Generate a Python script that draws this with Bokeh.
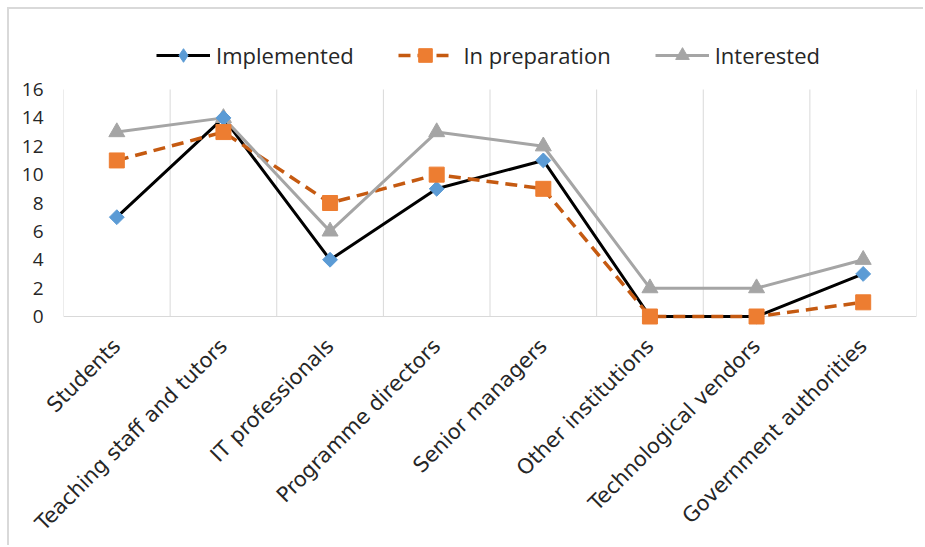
from bokeh.plotting import figure
from bokeh.models import FixedTicker, Legend, LegendItem
from bokeh.embed import file_html
from bokeh.resources import INLINE
from math import pi

# Stakeholder groups and the number of institutions in each status
categories = [
    "Students",
    "Teaching staff and tutors",
    "IT professionals",
    "Programme directors",
    "Senior managers",
    "Other institutions",
    "Technological vendors",
    "Government authorities",
]
implemented = [7, 14, 4, 9, 11, 0, 0, 3]
in_preparation = [11, 13, 8, 10, 9, 0, 0, 1]
interested = [13, 14, 6, 13, 12, 2, 2, 4]
y_ticks = [0, 2, 4, 6, 8, 10, 12, 14, 16]

x = list(range(1, len(categories) + 1))
FONT = "Open Sans"
TEXT = "#262626"
GRID = "#d9d9d9"
BLUE, ORANGE, DARK_ORANGE, GREY = "#5b9bd5", "#ed7d31", "#c55a11", "#a5a5a5"

Y_MAX = y_ticks[-1]
PX_PER_UNIT = 227 / Y_MAX          # pixels per unit in the value area
PAD_BOTTOM = 9                     # room below zero so markers at 0 are whole
FRAME_H = 296 + PAD_BOTTOM         # frame also holds the legend strip above the values

p = figure(
    width=916, height=538,
    x_range=(0.5, len(categories) + 0.5),
    y_range=(-PAD_BOTTOM / PX_PER_UNIT, (FRAME_H - PAD_BOTTOM) / PX_PER_UNIT),
    output_backend="svg", toolbar_location=None,
    min_border_left=54, min_border_right=9, min_border_top=11,
    min_border_bottom=231 - PAD_BOTTOM,
)
p.styles = {
    "margin-left": "7px", "margin-top": "7px",
    "border-left": "2px solid #d9d9d9", "border-top": "2px solid #d9d9d9",
}
p.outline_line_color = None
p.background_fill_color = "white"
p.border_fill_color = "white"

# category axis: labels at centres, its own line hidden (baseline drawn at zero)
p.xaxis.ticker = FixedTicker(ticks=x)
p.xaxis.major_label_overrides = {i: c for i, c in zip(x, categories)}
p.xaxis.major_label_orientation = pi / 4
p.xaxis.major_label_text_font = "DejaVu Sans"
p.xaxis.major_label_text_font_size = "21px"
p.xaxis.major_label_text_color = TEXT
p.xaxis.major_label_standoff = 11
p.xaxis.axis_line_color = None
p.xaxis.major_tick_line_color = None
p.xaxis.minor_tick_line_color = None

# vertical gridlines at the category boundaries and the zero baseline
bounds = [i + 0.5 for i in range(0, len(categories) + 1)]
p.segment(x0=bounds, y0=[0] * len(bounds), x1=bounds, y1=[Y_MAX] * len(bounds),
          line_color=GRID, line_width=1)
p.segment(x0=[bounds[0]], y0=[0], x1=[bounds[-1]], y1=[0], line_color=GRID, line_width=1)
p.xgrid.grid_line_color = None
p.ygrid.grid_line_color = None

p.yaxis.ticker = FixedTicker(ticks=y_ticks)
p.yaxis.axis_line_color = None
p.yaxis.major_tick_line_color = None
p.yaxis.minor_tick_line_color = None
p.yaxis.major_label_text_font = FONT
p.yaxis.major_label_text_font_size = "19px"
p.yaxis.major_label_text_color = TEXT
p.yaxis.major_label_standoff = 14

l1 = p.line(x, implemented, line_color="black", line_width=3, line_join="round")
l2 = p.line(x, in_preparation, line_color=DARK_ORANGE, line_width=3.5, line_dash="12 7")
l3 = p.line(x, interested, line_color=GREY, line_width=3, line_join="round")
m3 = p.scatter(x, interested, marker="triangle", size=16, fill_color=GREY, line_color=GREY)
m1 = p.scatter(x, implemented, marker="square", size=10.5, angle=pi / 4,
               fill_color=BLUE, line_color=BLUE)
m2 = p.scatter(x, in_preparation, marker="square", size=15, fill_color=ORANGE, line_color=ORANGE)

# hidden renderer that only supplies the diamond swatch in the legend
m1_key = p.scatter(x, implemented, marker="diamond", size=16, fill_color=BLUE,
                   line_color=BLUE, visible=False)

legend = Legend(
    items=[
        LegendItem(label="Implemented", renderers=[l1, m1_key]),
        LegendItem(label=" In preparation", renderers=[l2, m2]),
        LegendItem(label="Interested", renderers=[l3, m3]),
    ],
    orientation="horizontal",
    location=(93, 244 + PAD_BOTTOM),
    glyph_width=54, glyph_height=34,
    label_standoff=6, spacing=44, padding=0, margin=0,
    label_text_font=FONT, label_text_font_size="22px", label_text_color=TEXT,
    border_line_color=None, background_fill_alpha=0,
    inactive_fill_alpha=0,
)
p.add_layout(legend, "center")

open("out.html", "w").write(file_html(p, INLINE))
